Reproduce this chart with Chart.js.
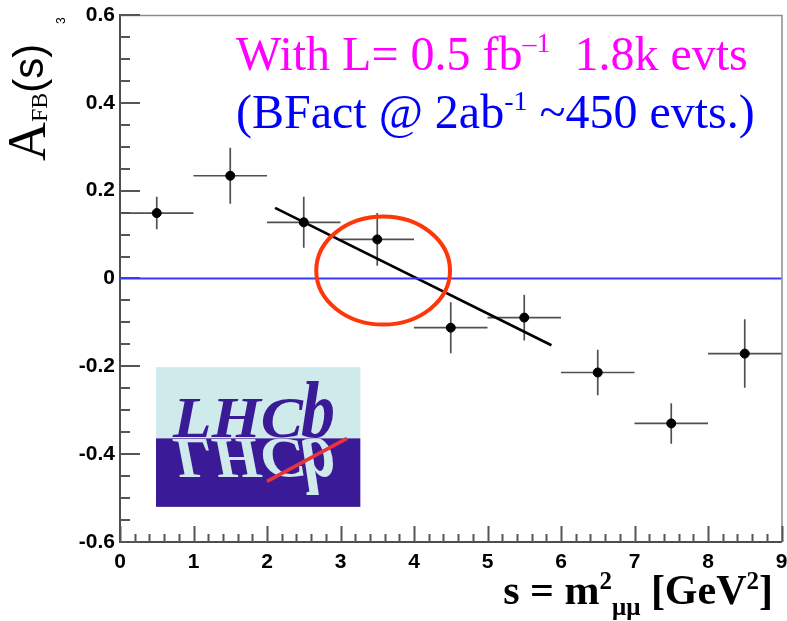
<!DOCTYPE html>
<html>
<head>
<meta charset="utf-8">
<script src="https://cdn.jsdelivr.net/npm/chart.js@4.4.1/dist/chart.umd.min.js"></script>
<style>
  html, body { margin: 0; padding: 0; background: #ffffff; }
  #wrap { width: 787px; height: 621px; }
</style>
</head>
<body>
<div id="wrap"><canvas id="afb" width="787" height="621"></canvas></div>
<script>
// Forward-backward asymmetry per q^2 bin (1 GeV^2 wide bins)
const binCenters    = [0.5, 1.5, 2.5, 3.5, 4.5, 5.5, 6.5, 7.5, 8.5];
const binHalfWidths = [0.5, 0.5, 0.5, 0.5, 0.5, 0.5, 0.5, 0.5, 0.5];
const afbValues     = [0.149, 0.234, 0.128, 0.089, -0.112, -0.089, -0.214, -0.330, -0.171];
const afbErrors     = [0.037, 0.064, 0.058, 0.060, 0.058, 0.052, 0.052, 0.046, 0.078];

// Linear fit around the zero crossing
const fitS   = [2.11, 5.87];
const fitAfb = [0.161, -0.152];

// Reference line at A_FB = 0
const zeroS   = [0, 9];
const zeroAfb = [0, 0];

// Highlighted zero-crossing region (centre and half-axes, in axis units)
const crossingCenter = [3.58, 0.018];
const crossingRadii  = [0.91, 0.123];

const xTickLabels = ['0', '1', '2', '3', '4', '5', '6', '7', '8', '9'];
const yTickLabels = ['-0.6', '-0.4', '-0.2', '0', '0.2', '0.4', '0.6'];

const toXY = (xs, ys) => xs.map((x, i) => ({ x: x, y: ys[i] }));

const SANS = '"Liberation Sans", Arial, sans-serif';
const SERIF = '"Liberation Serif", "Times New Roman", serif';

// Draw a sequence of text runs, each with its own font and vertical shift
function drawRuns(ctx, runs, x, y, align) {
  let total = 0;
  runs.forEach(r => { ctx.font = r.font; r.w = ctx.measureText(r.t).width; total += r.w; });
  let cx = align === 'right' ? x - total : x;
  runs.forEach(r => {
    ctx.font = r.font;
    ctx.fillText(r.t, cx, y + (r.dy || 0));
    cx += r.w;
  });
}

// Logo lettering: "LHC" plus a tall "b", each squeezed to a set width
function drawLogoWord(ctx, x0, base, flip, color) {
  const parts = [
    { t: 'LHC', font: 'italic bold 56px ' + SERIF, x: x0, w: 130 },
    { t: 'b', font: 'italic bold 80px ' + SERIF, x: x0 + 128, w: 34 }
  ];
  ctx.fillStyle = color;
  parts.forEach(p => {
    ctx.save();
    ctx.font = p.font;
    const sx = p.w / ctx.measureText(p.t).width;
    ctx.translate(p.x, base);
    ctx.scale(sx, flip ? -1 : 1);
    ctx.fillText(p.t, 0, -1);
    ctx.restore();
  });
}

const rootStyle = {
  id: 'rootStyle',
  beforeDatasetsDraw(chart) {
    const { ctx, chartArea: a, scales: { x, y } } = chart;
    ctx.save();
    // upper and right frame
    ctx.strokeStyle = '#8c8c8c';
    ctx.lineWidth = 1.5;
    ctx.beginPath();
    ctx.moveTo(a.left, a.top + 0.5);
    ctx.lineTo(a.right + 0.5, a.top + 0.5);
    ctx.lineTo(a.right + 0.5, a.bottom);
    ctx.stroke();

    // inward ticks
    ctx.strokeStyle = '#555555';
    ctx.lineWidth = 2;
    ctx.beginPath();
    for (let k = 0; k <= 24; k++) {
      const v = -0.6 + k * 0.05;
      const py = Math.round(y.getPixelForValue(v));
      const len = (k % 4 === 0) ? 20 : 10;
      ctx.moveTo(a.left, py);
      ctx.lineTo(a.left + len, py);
    }
    for (let k = 0; k <= 45; k++) {
      const v = k * 0.2;
      const px = Math.round(x.getPixelForValue(v)) + 0.5;
      const len = (k % 5 === 0) ? 16 : 8;
      ctx.moveTo(px, a.bottom);
      ctx.lineTo(px, a.bottom - len);
    }
    ctx.stroke();

    // error bars
    ctx.strokeStyle = '#505050';
    ctx.lineWidth = 1.7;
    ctx.beginPath();
    binCenters.forEach((s, i) => {
      const px = x.getPixelForValue(s);
      const py = y.getPixelForValue(afbValues[i]);
      ctx.moveTo(x.getPixelForValue(s - binHalfWidths[i]), py);
      ctx.lineTo(Math.min(x.getPixelForValue(s + binHalfWidths[i]), a.right), py);
      ctx.moveTo(px, y.getPixelForValue(afbValues[i] + afbErrors[i]));
      ctx.lineTo(px, y.getPixelForValue(afbValues[i] - afbErrors[i]));
    });
    ctx.stroke();
    ctx.restore();
  },
  afterDatasetsDraw(chart) {
    const { ctx, scales: { x, y } } = chart;
    ctx.save();
    // zero-crossing highlight
    const cx = x.getPixelForValue(crossingCenter[0]);
    const cy = y.getPixelForValue(crossingCenter[1]);
    const rx = x.getPixelForValue(crossingCenter[0] + crossingRadii[0]) - cx;
    const ry = cy - y.getPixelForValue(crossingCenter[1] + crossingRadii[1]);
    ctx.strokeStyle = '#ff3608';
    ctx.lineWidth = 4;
    ctx.beginPath();
    ctx.ellipse(cx, cy, rx, ry, 0, 0, Math.PI * 2);
    ctx.stroke();

    // experiment logo
    const L = x.getPixelForValue(0.49), R = x.getPixelForValue(3.27);
    const T = y.getPixelForValue(-0.202), B = y.getPixelForValue(-0.520);
    const M = y.getPixelForValue(-0.364);
    const light = '#cfeaea', dark = '#3b1a98';
    ctx.fillStyle = light;
    ctx.fillRect(L, T, R - L, M - T);
    ctx.fillStyle = dark;
    ctx.fillRect(L, M, R - L, B - M);
    ctx.textBaseline = 'alphabetic';

    // reflection
    ctx.save();
    ctx.beginPath();
    ctx.rect(L, M, R - L, B - M);
    ctx.clip();
    drawLogoWord(ctx, L + 17, M, true, light);
    ctx.restore();
    // red streak
    ctx.strokeStyle = '#e8323c';
    ctx.lineWidth = 3.5;
    ctx.beginPath();
    ctx.moveTo(L + 111, M + 43);
    ctx.lineTo(L + 191, M);
    ctx.stroke();
    // word
    drawLogoWord(ctx, L + 17, M, false, dark);
    ctx.restore();
  },
  afterDraw(chart) {
    const { ctx } = chart;
    ctx.save();
    ctx.textBaseline = 'alphabetic';
    ctx.textAlign = 'left';

    // annotation lines
    ctx.fillStyle = '#ff00ff';
    drawRuns(ctx, [
      { t: 'With L= 0.5 fb', font: '48px ' + SERIF },
      { t: '\u20131', font: '28px ' + SERIF, dy: -18 },
      { t: '  1.8k evts', font: '48px ' + SERIF }
    ], 236, 70, 'left');
    ctx.fillStyle = '#0000ff';
    drawRuns(ctx, [
      { t: '(BFact @ 2ab', font: '48px ' + SERIF },
      { t: '-1', font: '28px ' + SERIF, dy: -18 },
      { t: ' ~450 evts.)', font: '48px ' + SERIF }
    ], 236, 128, 'left');

    // x-axis title
    ctx.fillStyle = '#000000';
    drawRuns(ctx, [
      { t: 's = m', font: 'bold 42px ' + SERIF },
      { t: '2', font: 'bold 25px ' + SERIF, dy: -15 },
      { t: '\u03bc\u03bc', font: 'bold 25px ' + SERIF, dy: 11 },
      { t: ' [GeV', font: 'bold 42px ' + SERIF },
      { t: '2', font: 'bold 25px ' + SERIF, dy: -15 },
      { t: ']', font: 'bold 42px ' + SERIF }
    ], 773, 604, 'right');

    // y-axis title, rotated
    ctx.save();
    ctx.translate(45, 161);
    ctx.rotate(-Math.PI / 2);
    drawRuns(ctx, [
      { t: 'A', font: '54px ' + SERIF },
      { t: 'FB', font: '24px ' + SERIF, dy: 2 },
      { t: '(s)', font: '42px ' + SANS, dy: -2 }
    ], 0, 0, 'left');
    ctx.restore();

    ctx.save();
    ctx.translate(65, 24);
    ctx.rotate(-Math.PI / 2);
    ctx.font = '12px ' + SANS;
    ctx.fillText('3', 0, 0);
    ctx.restore();
    ctx.restore();
  }
};

new Chart(document.getElementById('afb'), {
  type: 'scatter',
  data: {
    datasets: [
      {
        type: 'line',
        data: toXY(zeroS, zeroAfb),
        borderColor: '#3838ff',
        borderWidth: 2,
        pointRadius: 0,
        fill: false
      },
      {
        type: 'line',
        data: toXY(fitS, fitAfb),
        borderColor: '#000000',
        borderWidth: 2.6,
        pointRadius: 0,
        fill: false
      },
      {
        data: toXY(binCenters, afbValues),
        backgroundColor: '#000000',
        borderColor: '#000000',
        borderWidth: 1,
        pointRadius: 4.5
      }
    ]
  },
  options: {
    responsive: false,
    animation: false,
    devicePixelRatio: 1,
    layout: { padding: { top: 15, right: 3, left: 0, bottom: 0 } },
    plugins: { legend: { display: false }, tooltip: { enabled: false } },
    scales: {
      x: {
        type: 'linear',
        min: 0, max: 9,
        grid: { display: false, drawTicks: false },
        border: { display: true, color: '#4d4d4d', width: 2 },
        ticks: {
          stepSize: 1, autoSkip: false, maxRotation: 0, padding: 8,
          color: '#000000',
          font: { family: SANS, weight: 'bold', size: 21 },
          callback: (v, i) => xTickLabels[i]
        },
        afterFit(s) { s.height = 79; s.paddingLeft = 0; s.paddingRight = 0; }
      },
      y: {
        type: 'linear',
        min: -0.6, max: 0.6,
        grid: { display: false, drawTicks: false },
        border: { display: true, color: '#4d4d4d', width: 2 },
        ticks: {
          stepSize: 0.2, padding: 5,
          color: '#000000',
          font: { family: SANS, weight: 'bold', size: 21 },
          callback: (v, i) => yTickLabels[i]
        },
        afterFit(s) { s.width = 120; s.paddingTop = 0; s.paddingBottom = 0; }
      }
    }
  },
  plugins: [rootStyle]
});
</script>
</body>
</html>
